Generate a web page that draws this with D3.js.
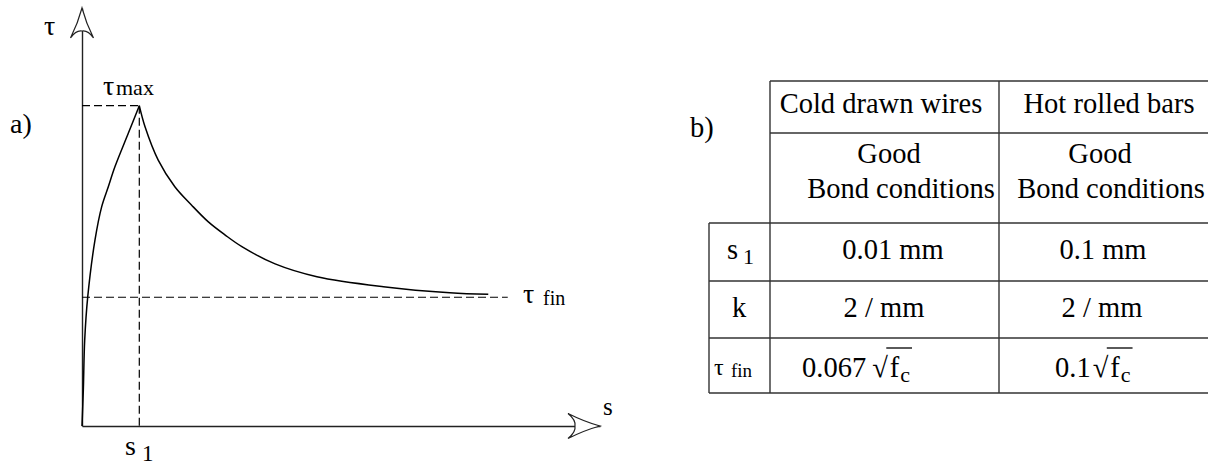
<!DOCTYPE html>
<html><head><meta charset="utf-8">
<script src="https://cdn.jsdelivr.net/npm/d3@7"></script>
<style>
html,body{margin:0;padding:0;background:#fff;}
svg{display:block;}
</style>
</head><body>
<svg id="c" width="1208" height="466" font-family="'Liberation Serif', 'DejaVu Serif', 'Noto Serif', serif"></svg>
<script>
// ---- curve data (s in units of s1, tau in units of tau_max) ----
const risingS   = [0, 0.023, 0.047, 0.10, 0.227, 0.344, 0.459, 0.576, 0.808, 1.0];
const risingTau = [0, 0.112, 0.268, 0.403, 0.581, 0.685, 0.747, 0.810, 0.914, 1.0];
const fallingS   = [1.0, 1.10, 1.33, 1.62, 1.91, 2.20, 2.50, 2.79, 3.37, 4.10, 5.26, 6.42, 7.09];
const fallingTau = [1.0, 0.934, 0.830, 0.747, 0.690, 0.638, 0.596, 0.560, 0.506, 0.466, 0.435, 0.416, 0.411];
const s1Value = 1.0, tauMax = 1.0, tauFin = 0.402;
const sAxisMax = 9.04, tauAxisMax = 1.305, tauFinLineEnd = 7.43;

// ---- table data ----
const tableColumns   = ["Cold drawn wires", "Hot rolled bars"];
const conditionLines = ["Good", "Bond conditions"];
const rowLabels      = ["s1", "k", "τfin"];
const s1Values       = ["0.01 mm", "0.1 mm"];
const kValues        = ["2 / mm", "2 / mm"];
const tauFinCoefs    = ["0.067", "0.1"];

const FONT = "'Liberation Serif', 'DejaVu Serif', 'Noto Serif', serif";
const svg = d3.select("#c");
const x = d3.scaleLinear().domain([0, sAxisMax]).range([82, 600]);
const y = d3.scaleLinear().domain([0, tauAxisMax]).range([426, 8]);

// axes (no ticks)
const gx = svg.append("g").attr("transform", `translate(0,${y(0)})`)
  .call(d3.axisBottom(x).tickValues([]).tickSizeOuter(0));
const gy = svg.append("g").attr("transform", `translate(${x(0)},0)`)
  .call(d3.axisLeft(y).tickValues([]).tickSizeOuter(0));
[gx, gy].forEach(g => g.select(".domain").attr("stroke", "#222").attr("stroke-width", 1.4));

// arrowheads
function arrowH(tx, ty) {
  return `M${tx},${ty} Q${tx-15},${ty-4} ${tx-32},${ty-12.5} Q${tx-24},${ty-6} ${tx-25},${ty} Q${tx-24},${ty+6} ${tx-32},${ty+12.5} Q${tx-15},${ty+4} ${tx},${ty} Z`;
}
function arrowV(tx, ty) {
  return `M${tx},${ty} Q${tx-4},${ty+15} ${tx-11.5},${ty+30} Q${tx-6},${ty+22} ${tx},${ty+23} Q${tx+6},${ty+22} ${tx+11.5},${ty+30} Q${tx+4},${ty+15} ${tx},${ty} Z`;
}
svg.append("path").attr("d", arrowH(x(sAxisMax), y(0))).attr("fill", "#fff").attr("stroke", "#222").attr("stroke-width", 1.2);
svg.append("path").attr("d", arrowV(x(0), y(tauAxisMax))).attr("fill", "#fff").attr("stroke", "#222").attr("stroke-width", 1.2);

// dashed reference lines
const dash = "8,4";
svg.append("line").attr("x1", x(0)).attr("x2", x(s1Value)).attr("y1", y(tauMax)).attr("y2", y(tauMax))
  .attr("stroke", "#000").attr("stroke-width", 1.2).attr("stroke-dasharray", dash);
svg.append("line").attr("x1", x(s1Value)).attr("x2", x(s1Value)).attr("y1", y(tauMax)).attr("y2", y(0))
  .attr("stroke", "#000").attr("stroke-width", 1.2).attr("stroke-dasharray", dash);
svg.append("line").attr("x1", x(0)).attr("x2", x(tauFinLineEnd)).attr("y1", y(tauFin)).attr("y2", y(tauFin))
  .attr("stroke", "#000").attr("stroke-width", 1.2).attr("stroke-dasharray", dash);

// curve
const rising = risingS.map((s, i) => [s, risingTau[i]]);
const falling = fallingS.map((s, i) => [s, fallingTau[i]]);
const line = d3.line().x(d => x(d[0])).y(d => y(d[1])).curve(d3.curveCatmullRom.alpha(0.5));
[rising, falling].forEach(pts => svg.append("path").attr("d", line(pts))
  .attr("fill", "none").attr("stroke", "#000").attr("stroke-width", 1.5));

// labels: main glyph + optional subscript at absolute x
function label(txt, px, py, size, sub, subSize, subX, subY) {
  const t = svg.append("text").attr("font-family", FONT).attr("font-size", size).attr("fill", "#000");
  t.append("tspan").attr("x", px).attr("y", py).text(txt);
  if (sub) t.append("tspan").attr("x", subX).attr("y", subY).attr("font-size", subSize).text(sub);
  return t;
}
label("τ", 44, 35, 28);
label("a)", 10, 133, 28);
label("τ", 103, 95, 28, "max", 22, 116, 95);
label("τ", 523, 303, 28, "fin", 20, 543, 305);
label("s", 603, 415, 25);
label("s", 125, 455, 28, "1", 23, 142, 461);
label("b)", 690, 137, 28.5);

// ---- table ----
const fs = 28.5;
const colX = [709, 770, 999, 1219];
const rowY = [81, 133, 223, 281, 338, 393];
const tg = svg.append("g").attr("stroke", "#333").attr("stroke-width", 1.4);
tg.append("line").attr("x1", colX[1]).attr("x2", colX[3]).attr("y1", rowY[0]).attr("y2", rowY[0]);
tg.append("line").attr("x1", colX[1]).attr("x2", colX[3]).attr("y1", rowY[1]).attr("y2", rowY[1]);
rowY.slice(2).forEach(yy => tg.append("line").attr("x1", colX[0]).attr("x2", colX[3]).attr("y1", yy).attr("y2", yy));
tg.append("line").attr("x1", colX[0]).attr("x2", colX[0]).attr("y1", rowY[2]).attr("y2", rowY[5]);
colX.slice(1).forEach(xx => tg.append("line").attr("x1", xx).attr("x2", xx).attr("y1", rowY[0]).attr("y2", rowY[5]));

function ctext(txt, cx, by, anchor) {
  return svg.append("text").attr("x", cx).attr("y", by).attr("text-anchor", anchor || "middle")
    .attr("font-family", FONT).attr("font-size", fs).attr("fill", "#000").text(txt);
}
const headCx = [881, 1109];
tableColumns.forEach((c, i) => ctext(c, headCx[i], 113));
const goodCx = [889, 1100], bondCx = [901, 1111];
[0, 1].forEach(i => { ctext(conditionLines[0], goodCx[i], 163); ctext(conditionLines[1], bondCx[i], 198); });

// row labels
label(rowLabels[0][0], 727, 259, fs, rowLabels[0].slice(1), 22, 743, 264);
ctext(rowLabels[1], 739, 317);
label(rowLabels[2][0], 714, 375, 24, rowLabels[2].slice(1), 19, 731, 377);

// values
const s1Cx = [893, 1103], kCx = [884, 1102];
s1Values.forEach((v, i) => ctext(v, s1Cx[i], 259));
kValues.forEach((v, i) => ctext(v, kCx[i], 317));

// tau_fin row: coef · sqrt(f_c)
const coefX = [802, 1055], rootGap = [6, 2];
tauFinCoefs.forEach((c, i) => {
  const ct = ctext(c, coefX[i], 377, "start");
  const rx = coefX[i] + ct.node().getComputedTextLength() + rootGap[i];
  const r = svg.append("text").attr("x", rx).attr("y", 377).attr("font-family", FONT)
    .attr("font-size", fs).attr("fill", "#000").text("√");
  const rw = r.node().getComputedTextLength();
  const f = svg.append("text").attr("font-family", FONT).attr("font-size", fs).attr("fill", "#000");
  f.append("tspan").attr("x", rx + rw + 2).attr("y", 377).text("f");
  const fw0 = f.node().getComputedTextLength();
  f.append("tspan").attr("x", rx + rw + 3 + fw0).attr("y", 382).attr("font-size", 22).text("c");
  const fw = f.node().getComputedTextLength();
  svg.append("line").attr("x1", rx + rw - 1.5).attr("x2", rx + rw + 3 + fw + 2)
    .attr("y1", 348).attr("y2", 348).attr("stroke", "#000").attr("stroke-width", 1.3);
});
</script>
</body></html>
